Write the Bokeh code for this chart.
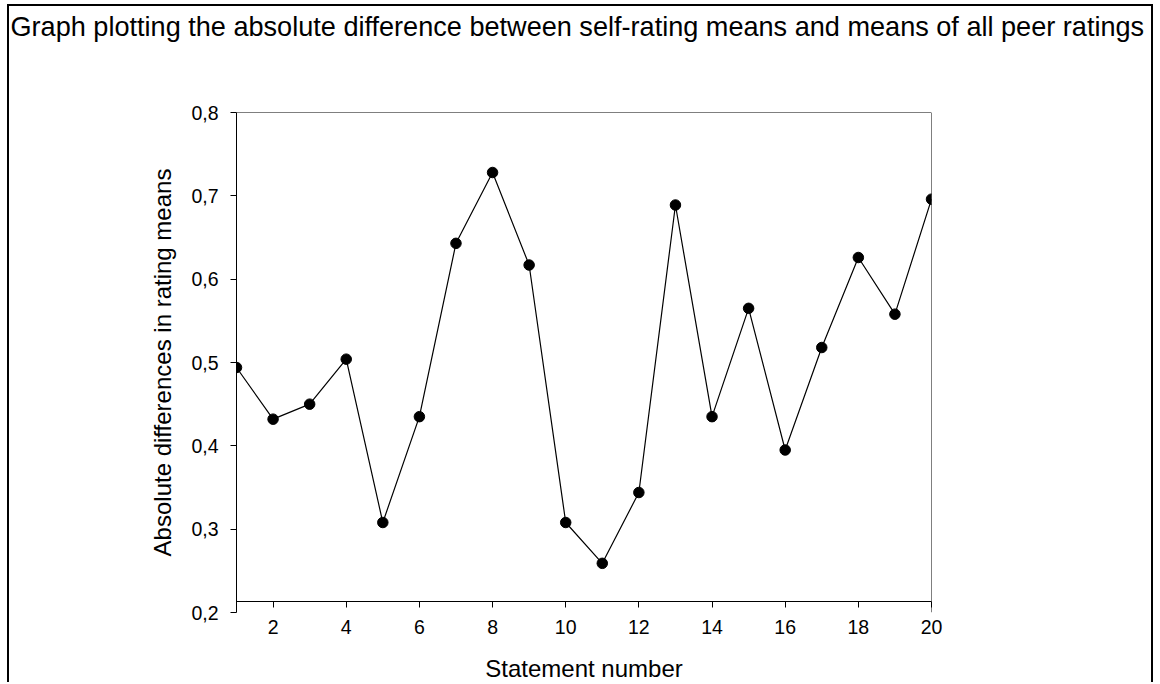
from bokeh.plotting import figure
from bokeh.models import Range1d, FixedTicker, CustomJSTickFormatter, Span, Title
from bokeh.embed import file_html
from bokeh.resources import INLINE

# Data
statements = list(range(1, 21))
abs_diff = [0.494, 0.432, 0.450, 0.504, 0.308, 0.435, 0.643, 0.728, 0.617, 0.308,
            0.259, 0.344, 0.689, 0.435, 0.565, 0.395, 0.518, 0.626, 0.558, 0.696]
x_ticks = [2, 4, 6, 8, 10, 12, 14, 16, 18, 20]
y_ticks = [0.2, 0.3, 0.4, 0.5, 0.6, 0.7, 0.8]
x_axis_level = 0.2132  # the offset x-axis line sits slightly above 0,2

title_text = "Graph plotting the absolute difference between self-rating means and means of all peer ratings"
FONT = "Liberation Sans"

p = figure(width=1146, height=678, output_backend="svg", toolbar_location=None,
           x_range=Range1d(1, 20), y_range=Range1d(0.2, 0.8),
           min_border_left=227, min_border_right=224, min_border_top=0, min_border_bottom=71)
p.styles = {"border-top": "2px solid black", "border-left": "2px solid black",
            "border-right": "2px solid black", "margin-left": "7px", "margin-top": "4px"}

p.outline_line_color = None
p.xgrid.visible = False
p.ygrid.visible = False
p.background_fill_color = "white"
p.border_fill_color = "white"

# spacer between the title and the frame, then the title itself (outermost)
p.add_layout(Title(text=" ", text_font=FONT, text_font_size="12px", standoff=48), "above")
p.add_layout(Title(text=title_text, text_font=FONT, text_font_size="27.1px",
                   text_font_style="normal", text_color="black", align="left",
                   vertical_align="top", offset=-226, standoff=9), "above")

# axes
xa = p.xaxis[0]
xa.ticker = FixedTicker(ticks=x_ticks)
xa.axis_label = "Statement number"
xa.axis_label_text_font = FONT
xa.axis_label_text_font_size = "24px"
xa.axis_label_text_font_style = "normal"
xa.axis_label_standoff = 18
xa.major_label_text_font = FONT
xa.major_label_text_font_size = "19.5px"
xa.major_label_standoff = 7
xa.major_tick_in = 11
xa.major_tick_out = -5
xa.minor_tick_in = 0
xa.minor_tick_out = 0
xa.axis_line_color = None
xa.major_tick_line_color = "black"
xa.major_label_text_color = "black"
xa.axis_label_text_color = "black"

ya = p.yaxis[0]
ya.ticker = FixedTicker(ticks=y_ticks)
ya.formatter = CustomJSTickFormatter(code="return tick.toFixed(1).replace('.', ',');")
ya.axis_label = "Absolute differences in rating means"
ya.axis_label_text_font = FONT
ya.axis_label_text_font_size = "24px"
ya.axis_label_text_font_style = "normal"
ya.axis_label_standoff = 12
ya.major_label_text_font = FONT
ya.major_label_text_font_size = "19.5px"
ya.major_label_standoff = 12
ya.major_tick_in = 0
ya.major_tick_out = 6
ya.minor_tick_in = 0
ya.minor_tick_out = 0
ya.axis_line_color = "black"
ya.major_tick_line_color = "black"
ya.major_label_text_color = "black"
ya.axis_label_text_color = "black"

# frame lines (top, right) and the offset x-axis line
p.add_layout(Span(location=0.8, dimension="width", line_color="black", line_width=1))
p.add_layout(Span(location=20, dimension="height", line_color="black", line_width=1))
p.add_layout(Span(location=x_axis_level, dimension="width", line_color="black", line_width=1))

p.line(statements, abs_diff, line_color="black", line_width=1.2)
p.scatter(statements, abs_diff, size=10.5, marker="circle", fill_color="black", line_color="black")

open("out.html", "w").write(file_html(p, INLINE))
